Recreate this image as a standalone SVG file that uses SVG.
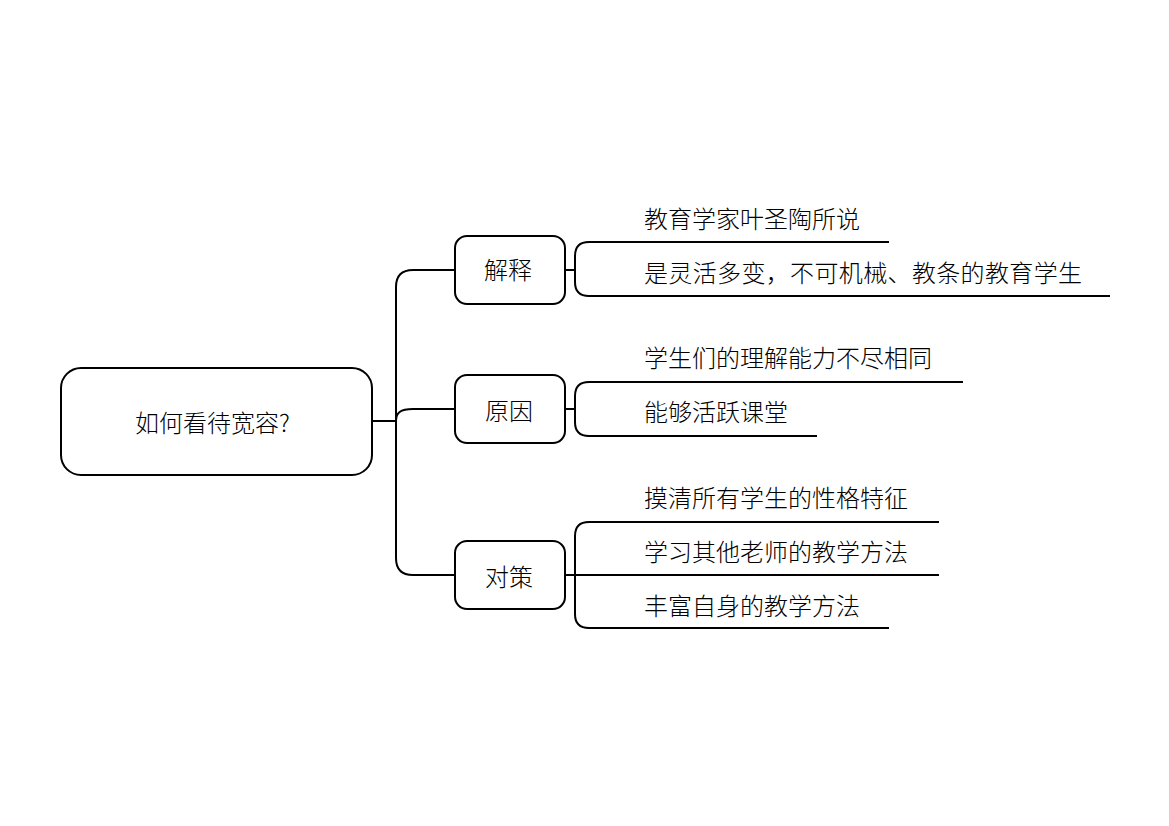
<svg xmlns="http://www.w3.org/2000/svg" width="1169" height="826" viewBox="0 0 1169 826">
<style>
.box{fill:#fff;stroke:#000;stroke-width:2}
.ln{fill:none;stroke:#000;stroke-width:2}
text{font-family:"Noto Sans CJK SC","Noto Sans",sans-serif;font-size:24px;font-weight:300;fill:#000;dominant-baseline:central}
</style>
<rect width="1169" height="826" fill="#fff"/>
<g id="connectors">
<path class="ln" d="M372,421 H396"/>
<path class="ln" d="M396,421 V287 Q396,270 413,270 H455"/>
<path class="ln" d="M396,421 C396,413 400,409 413,409 H455"/>
<path class="ln" d="M396,421 V558 Q396,575 413,575 H455"/>
<path class="ln" d="M565,270 H575"/>
<path class="ln" d="M889,242 H589 Q575,242 575,256 V282 Q575,296 589,296 H1110"/>
<path class="ln" d="M565,409 H575"/>
<path class="ln" d="M963,382 H589 Q575,382 575,396 V422 Q575,436 589,436 H817"/>
<path class="ln" d="M565,575 H939"/>
<path class="ln" d="M939,522 H589 Q575,522 575,536 V614 Q575,628 589,628 H889"/>
</g>
<g id="root">
<rect class="box" x="61" y="368" width="311" height="107" rx="20"/>
<text x="135" y="421">如何看待宽容?</text>
</g>
<g id="n-jieshi">
<rect class="box" x="455" y="236" width="110" height="68" rx="12"/>
<text x="484" y="268">解释</text>
</g>
<g id="n-yuanyin">
<rect class="box" x="455" y="375" width="110" height="68" rx="12"/>
<text x="485" y="409">原因</text>
</g>
<g id="n-duice">
<rect class="box" x="455" y="541" width="110" height="68" rx="12"/>
<text x="485" y="575">对策</text>
</g>
<g id="leaf-1"><text x="644" y="217">教育学家叶圣陶所说</text></g>
<g id="leaf-2"><text x="644" y="271" textLength="438" lengthAdjust="spacing">是灵活多变，不可机械、教条的教育学生</text></g>
<g id="leaf-3"><text x="644" y="356">学生们的理解能力不尽相同</text></g>
<g id="leaf-4"><text x="644" y="410">能够活跃课堂</text></g>
<g id="leaf-5"><text x="644" y="496">摸清所有学生的性格特征</text></g>
<g id="leaf-6"><text x="644" y="550">学习其他老师的教学方法</text></g>
<g id="leaf-7"><text x="644" y="604">丰富自身的教学方法</text></g>
</svg>
